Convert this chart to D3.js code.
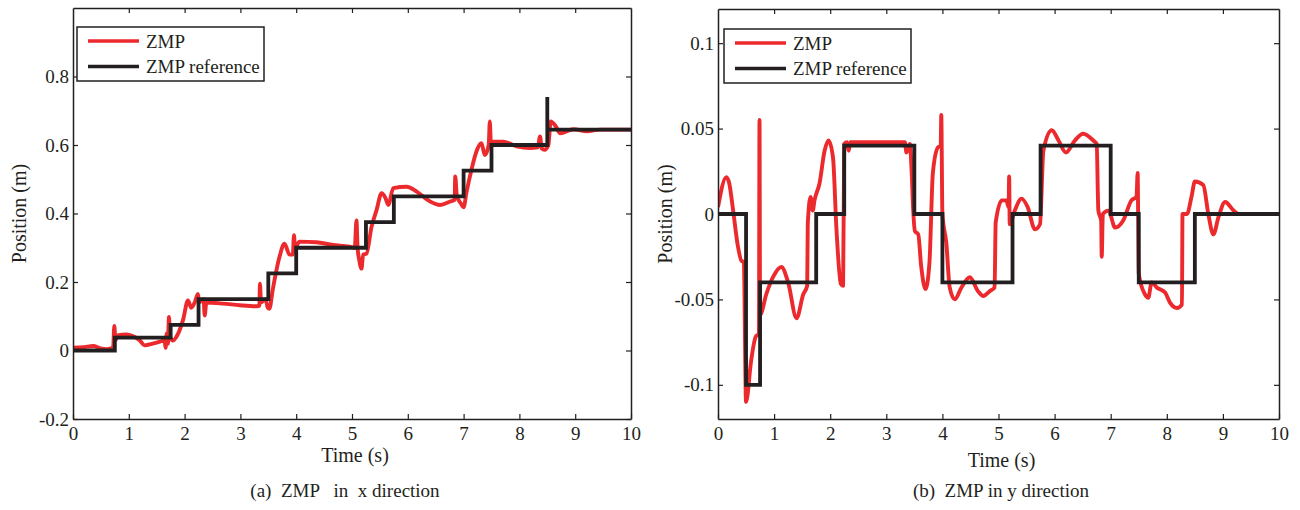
<!DOCTYPE html>
<html>
<head>
<meta charset="utf-8">
<script src="https://cdn.jsdelivr.net/npm/d3@7"></script>
<style>
  body { margin: 0; background: #fff; }
  text { font-family: "Liberation Serif", "Times New Roman", serif; fill: #231f20; }
</style>
</head>
<body>
<div class="chart"></div>
<script>
// time axis ticks, shared by both panels
const timeTicks = [0, 1, 2, 3, 4, 5, 6, 7, 8, 9, 10]

// (a) x direction
const xTicksPos = [-0.2, 0, 0.2, 0.4, 0.6, 0.8]
const refXTime = [0, 0.75, 1.75, 2.25, 3.5, 4.0, 5.25, 5.75, 7.0, 7.5, 8.5, 8.5, 10]
const refXPos = [0, 0.0375, 0.075, 0.15, 0.225, 0.3, 0.375, 0.45, 0.525, 0.6, 0.74, 0.645, 0.645]
const zmpXTime = [
  0, 0.2, 0.36, 0.5, 0.6, 0.68, 0.72, 0.74, 0.76, 0.8, 0.96, 1.1, 1.2, 1.28, 1.43, 1.58, 1.64, 1.66, 1.68, 1.7,
  1.72, 1.74, 1.79, 1.85, 1.97, 2.06, 2.12, 2.18, 2.24, 2.26, 2.34, 2.36, 2.39, 2.69, 2.99, 3.29, 3.34, 3.35, 3.37, 3.45,
  3.49, 3.52, 3.58, 3.7, 3.79, 3.88, 3.94, 3.96, 3.98, 4.06, 4.36, 4.66, 4.96, 5.05, 5.08, 5.1, 5.13, 5.17, 5.2, 5.26,
  5.35, 5.44, 5.53, 5.6, 5.65, 5.74, 5.98, 6.16, 6.4, 6.58, 6.76, 6.84, 6.85, 6.88, 6.95, 7.0, 7.05, 7.14, 7.23, 7.32,
  7.38, 7.45, 7.47, 7.49, 7.53, 7.71, 7.95, 8.19, 8.33, 8.37, 8.4, 8.45, 8.52, 8.56, 8.65, 8.73, 8.97, 9.21, 9.45, 10
]
const zmpXPos = [
  0.008, 0.01, 0.013, 0.006, 0.004, 0.006, 0.01, 0.072, 0.03, 0.044, 0.047, 0.04, 0.029, 0.015, 0.02, 0.027, 0.03, 0.008, 0.05, 0.02,
  0.098, 0.04, 0.029, 0.039, 0.088, 0.146, 0.125, 0.14, 0.165, 0.14, 0.15, 0.102, 0.14, 0.137, 0.132, 0.129, 0.13, 0.195, 0.14, 0.15,
  0.125, 0.122, 0.178, 0.273, 0.312, 0.28, 0.28, 0.337, 0.3, 0.318, 0.316, 0.308, 0.303, 0.3, 0.38, 0.3, 0.264, 0.239, 0.28, 0.283,
  0.361, 0.41, 0.459, 0.445, 0.425, 0.474, 0.478, 0.464, 0.435, 0.425, 0.435, 0.44, 0.508, 0.45, 0.43, 0.418, 0.46, 0.527, 0.581, 0.605,
  0.571, 0.6, 0.669, 0.6, 0.61, 0.61, 0.596, 0.591, 0.593, 0.625, 0.59, 0.586, 0.6, 0.669, 0.655, 0.634, 0.646, 0.64, 0.645, 0.645
]

// (b) y direction
const yTicksPos = [-0.1, -0.05, 0, 0.05, 0.1]
const refYTime = [0, 0.5, 0.75, 1.75, 2.25, 3.5, 4.0, 5.25, 5.75, 7.0, 7.5, 8.5, 10]
const refYPos = [0, -0.1, -0.04, 0, 0.04, 0, -0.04, 0, 0.04, 0, -0.04, 0, 0]
const zmpYTime = [
  0, 0.15, 0.2, 0.27, 0.35, 0.42, 0.46, 0.5, 0.59, 0.67, 0.73, 0.74, 0.75, 0.86, 0.98, 1.13, 1.25, 1.4, 1.52, 1.59,
  1.6, 1.65, 1.69, 1.72, 1.81, 1.9, 1.97, 2.05, 2.11, 2.19, 2.23, 2.25, 2.3, 2.33, 2.36, 2.85, 3.33, 3.36, 3.42, 3.45,
  3.48, 3.51, 3.57, 3.62, 3.7, 3.77, 3.83, 3.92, 3.97, 3.98, 4.0, 4.07, 4.13, 4.22, 4.34, 4.49, 4.63, 4.73, 4.85, 4.93,
  4.95, 5.06, 5.14, 5.18, 5.19, 5.2, 5.29, 5.41, 5.52, 5.65, 5.74, 5.8, 5.95, 6.07, 6.2, 6.36, 6.51, 6.69, 6.75, 6.78,
  6.83, 6.84, 6.86, 6.96, 7.08, 7.22, 7.37, 7.46, 7.48, 7.5, 7.61, 7.67, 7.73, 7.82, 7.97, 8.06, 8.18, 8.27, 8.28, 8.36,
  8.44, 8.5, 8.65, 8.74, 8.83, 8.92, 9.04, 9.19, 9.28, 10
]
const zmpYPos = [
  0.004, 0.0216, 0.018, 0.002, -0.018, -0.0275, -0.028, -0.11, -0.086, -0.072, -0.07, 0.055, -0.059, -0.047, -0.037, -0.031, -0.04, -0.061, -0.047, -0.042,
  -0.006, 0.01, 0.002, 0.008, 0.018, 0.037, 0.043, 0.033, -0.008, -0.041, -0.042, 0.041, 0.042, 0.037, 0.042, 0.042, 0.042, 0.036, 0.041, 0.026,
  0.002, -0.01, -0.012, -0.03, -0.044, -0.028, 0.024, 0.039, 0.04, 0.058, 0, -0.017, -0.043, -0.05, -0.043, -0.037, -0.045, -0.048, -0.045, -0.043,
  -0.005, 0.008, 0.008, 0.004, 0.022, -0.006, 0.002, 0.009, 0.004, -0.009, -0.006, 0.037, 0.049, 0.043, 0.036, 0.043, 0.047, 0.043, 0.041, 0.002,
  -0.004, -0.025, 0, 0.002, -0.008, -0.004, 0.008, 0.01, 0.024, -0.035, -0.047, -0.049, -0.04, -0.043, -0.046, -0.052, -0.055, -0.053, 0, 0,
  0.01, 0.019, 0.017, 0, -0.012, -0.002, 0.007, 0.002, 0, 0
]

const legendNames = ['ZMP', 'ZMP reference']
const red = '#ec2a2e'
const black = '#231f20'

const svg = d3.select('.chart')
  .append('svg')
  .attr('width', 1300)
  .attr('height', 510)

drawPanel({
  id: 'a', left: 73, right: 631, top: 8, bottom: 419,
  yDomain: [-0.2, 1.0], yTicks: xTicksPos,
  zmp: zip(zmpXTime, zmpXPos), ref: zip(refXTime, refXPos),
  legend: { x: 77, y: 27, w: 187, h: 54 },
  yLabelX: 26, xLabelY: 462, caption: '(a)  ZMP   in  x direction', captionX: 345
})
drawPanel({
  id: 'b', left: 718, right: 1279, top: 9, bottom: 419,
  yDomain: [-0.12, 0.12], yTicks: yTicksPos,
  zmp: zip(zmpYTime, zmpYPos), ref: zip(refYTime, refYPos),
  legend: { x: 724, y: 29, w: 187, h: 54 },
  yLabelX: 672, xLabelY: 467, caption: '(b)  ZMP in y direction', captionX: 1001
})


//helpers

function zip(ts, vs) {
  return ts.map((t, i) => [t, vs[i]])
}

function drawPanel(p) {
  const x = d3.scaleLinear().domain([0, 10]).range([p.left, p.right])
  const y = d3.scaleLinear().domain(p.yDomain).range([p.bottom, p.top])
  const tick = 5
  const g = svg.append('g')

  g.append('clipPath').attr('id', 'clip-' + p.id)
    .append('rect')
    .attr('x', p.left).attr('y', p.top)
    .attr('width', p.right - p.left).attr('height', p.bottom - p.top)

  const plot = g.append('g').attr('clip-path', `url(#clip-${p.id})`)

  plot.append('path')
    .datum(p.zmp)
    .attr('fill', 'none')
    .attr('stroke', red)
    .attr('stroke-width', 3.9)
    .attr('stroke-linejoin', 'round')
    .attr('d', d3.line().curve(d3.curveMonotoneX).x(d => x(d[0])).y(d => y(d[1])))

  plot.append('path')
    .datum(p.ref)
    .attr('fill', 'none')
    .attr('stroke', black)
    .attr('stroke-width', 3.8)
    .attr('stroke-linejoin', 'miter')
    .attr('d', d3.line().curve(d3.curveStepAfter).x(d => x(d[0])).y(d => y(d[1])))

  // box axes, ticks pointing inward (matlab style)
  const axes = [
    [d3.axisBottom(x).tickValues(timeTicks).tickPadding(8), `translate(0,${p.bottom})`, true],
    [d3.axisTop(x).tickValues(timeTicks), `translate(0,${p.top})`, false],
    [d3.axisLeft(y).tickValues(p.yTicks).tickPadding(4), `translate(${p.left},0)`, true],
    [d3.axisRight(y).tickValues(p.yTicks), `translate(${p.right},0)`, false]
  ]
  axes.forEach(([ax, tr, labels]) => {
    const a = g.append('g')
      .attr('transform', tr)
      .call(ax.tickSize(-tick).tickSizeOuter(0).tickFormat(labels ? d => String(d) : ''))
    a.select('.domain').attr('stroke', black).attr('stroke-width', 1.5)
    a.selectAll('.tick line').attr('stroke', black).attr('stroke-width', 1.2)
    a.selectAll('.tick text')
      .style('font-family', '"Liberation Serif", "Times New Roman", serif')
      .style('font-size', '19px')
      .attr('fill', black)
    // matlab draws no tick at the box corners
    a.selectAll('.tick')
      .filter(d => d === 0 && ax === axes[1][0] || d === 10 && !labels)
      .select('line').remove()
  })

  g.append('text')
    .attr('x', (p.left + p.right) / 2 + 3)
    .attr('y', p.xLabelY)
    .attr('text-anchor', 'middle')
    .style('font-size', '20px')
    .text('Time (s)')

  g.append('text')
    .attr('transform', `translate(${p.yLabelX},${(p.top + p.bottom) / 2}) rotate(-90)`)
    .attr('text-anchor', 'middle')
    .style('font-size', '20px')
    .text('Position (m)')

  g.append('text')
    .attr('x', p.captionX)
    .attr('y', 497)
    .attr('text-anchor', 'middle')
    .style('font-size', '19px')
    .style('white-space', 'pre')
    .text(p.caption)

  // legend
  const L = p.legend
  const lg = g.append('g')
  lg.append('rect')
    .attr('x', L.x).attr('y', L.y).attr('width', L.w).attr('height', L.h)
    .attr('fill', '#fff').attr('stroke', black).attr('stroke-width', 1.5)
  legendNames.forEach((name, i) => {
    const ly = L.y + 14 + i * 25.5
    lg.append('line')
      .attr('x1', L.x + 11).attr('x2', L.x + 62)
      .attr('y1', ly).attr('y2', ly)
      .attr('stroke', i === 0 ? red : black)
      .attr('stroke-width', 3.6)
    lg.append('text')
      .attr('x', L.x + 69)
      .attr('y', ly)
      .attr('dy', '0.36em')
      .style('font-size', '19px')
      .text(name)
  })
}
</script>
</body>
</html>
